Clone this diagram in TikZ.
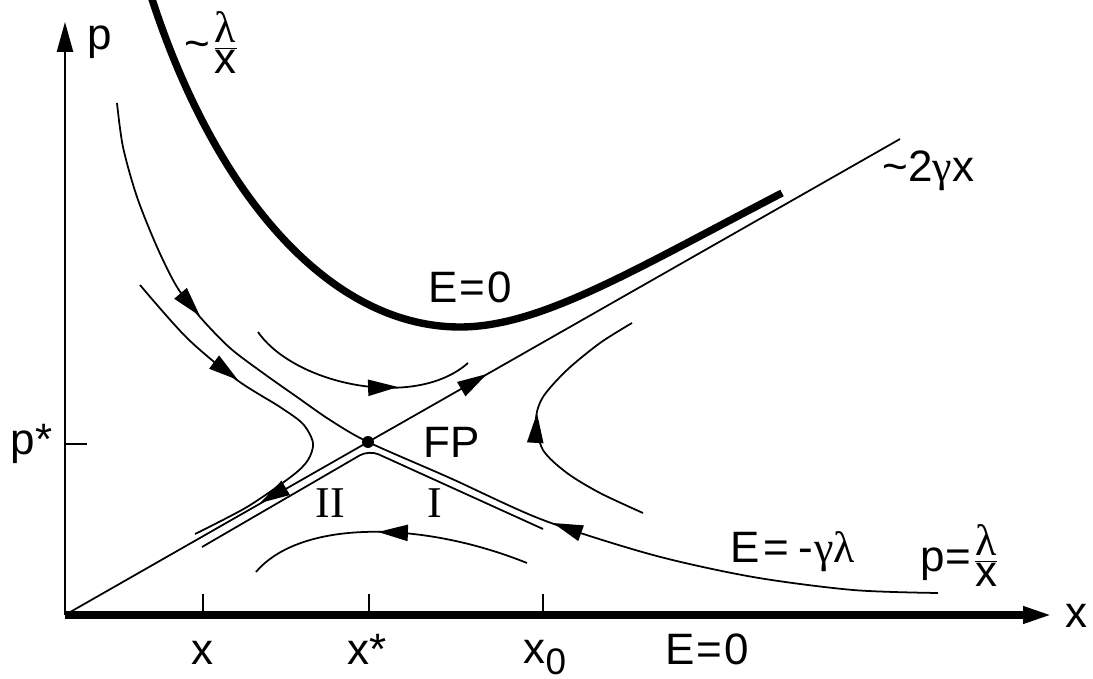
\documentclass[tikz,border=0pt]{standalone}
\usepackage{fontspec}
\setmainfont{Liberation Sans}
\newfontfamily\grk{Liberation Serif}
\usetikzlibrary{arrows.meta}

\begin{document}
\begin{tikzpicture}[
    x=0.01cm, y=-0.01cm,
    font=\fontsize{12.5}{15}\selectfont,
    orbit/.style={line width=0.5pt},
    zero/.style={line width=2.1pt},
    arr/.style={-{Triangle[length=8.5pt,width=4.6pt]}, line width=0.5pt},
    lbl/.style={inner sep=0pt, anchor=base west},
  ]
  \useasboundingbox (0,0) rectangle (1093,679);
  \coordinate (O) at (65,615);
  \coordinate (FP) at (368,442);
  \coordinate (emin) at (460,327);

  % axes
  \draw[zero, -{Triangle[length=8.5pt,width=4.4pt]}] (O) -- (1053,615) coordinate (xend);
  \draw[arr] (O) -- (65,22) coordinate (pend);
  \draw[orbit] (65,444) -- (87,444);
  \foreach \t in {203,369,543}
    \draw[orbit] (\t,594) -- (\t,615);

  % E=0 branch
  \draw[zero] (151,-4) .. controls (215,195) and (330,327) .. (emin)
    .. controls (540,327) and (632,271) .. (782,193);

  % line through the fixed point
  \draw[orbit] (O) -- (FP) -- (900,139) coordinate (lend);

  % separatrix p = lambda/x
  \draw[orbit] plot[smooth] coordinates {(117,103) (123,147) (137,197) (157,247) (177,287)
    (200,317) (230,348) (263,373) (297,397) (330,420) (FP) (450,478) (543,520)
    (653,555) (753,577) (853,590) (938,593)};

  % other orbits
  \draw[orbit] plot[smooth] coordinates {(140,285) (187,338) (237,380) (280,407)
    (303,424) (313,443) (308,460) (292,476) (247,507) (195,534)};
  \draw[orbit] (258,332) .. controls (295,385) and (415,410) .. (468,363);
  \draw[orbit] (256,572) .. controls (300,520) and (420,520) .. (527,563);
  \draw[orbit] plot[smooth] coordinates {(632,323) (600,343) (567,370) (543,397) (536,420)
    (543,450) (567,473) (600,493) (643,513)};
  \draw[orbit, rounded corners=3pt] (202,547) -- (369,450) -- (543,529);

  \fill (FP) circle (6);

  % arrowheads
  \draw[arr] (188,302) -- (200,316);
  \draw[arr] (575,531) -- (553,523);
  \draw[arr] (222,368) -- (238,380);
  \draw[arr] (470,384) -- (487,374);
  \draw[arr] (277,493) -- (260,503);
  \draw[arr] (380,387.5) -- (398,387);
  \draw[arr] (395,532.5) -- (378,532);
  \draw[arr] (536,430) -- (537,413);

  % labels
  \node[lbl] (plbl) at (87,50) {p};
  \node[lbl] (xlbl) at (1065,628) {x};
  \node[lbl] (pstar) at (10,455) {p*};
  \node[lbl, anchor=base] (xa) at (202,665) {x};
  \node[lbl] (xstar) at (347,665) {x*};
  \node[lbl] (xnull) at (523,664) {x\raisebox{-3pt}{\fontsize{10.5}{12}\selectfont 0}};
  \node[lbl] (eaxis) at (665,665) {E\kern0.5pt=\kern0.5pt0};
  \node[lbl] (etop) at (428,303) {E\kern0.5pt=\kern0.5pt0};
  \node[lbl] (asym) at (184,59) {\textasciitilde$\frac{\mbox{\grk λ}}{\mbox{x}}$};
  \node[lbl] (slope) at (882,182) {\textasciitilde 2{\grk γ}x};
  \node[lbl] (fplbl) at (423,458) {FP};
  \node[lbl, font=\grk\fontsize{12.5}{15}\selectfont] (two) at (315,518) {II};
  \node[lbl, font=\grk\fontsize{12.5}{15}\selectfont] (one) at (427,518) {I};
  \node[lbl] (elbl) at (730,563) {E\kern1pt=\kern2.5pt-\kern0.5pt{\grk γλ}};
  \node[lbl] (plam) at (920,572) {p=$\frac{\mbox{\grk λ}}{\mbox{x}}$};
\end{tikzpicture}
\end{document}
